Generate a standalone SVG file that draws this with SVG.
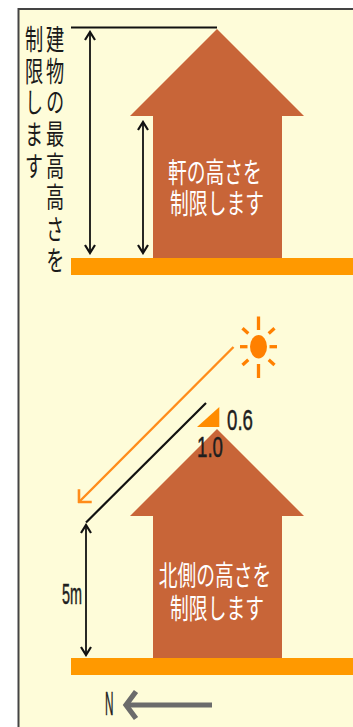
<svg xmlns="http://www.w3.org/2000/svg" width="353" height="727" viewBox="0 0 353 727">
  <style>
    .house { fill: #C86538; }
    .ground { fill: #FF9900; }
    .dim { stroke: #111; stroke-width: 1.8; fill: none; marker-start: url(#chev); marker-end: url(#chev); }
    .jp { font-family: "Noto Sans CJK JP", "Noto Sans", sans-serif; font-size: 28px; }
    .jpv { font-family: "Noto Sans CJK JP", "Noto Sans", sans-serif; font-size: 28px; fill: #1a1a1a; writing-mode: vertical-rl; letter-spacing: 3.6px; }
    .num { font-family: "Liberation Sans", Arial, sans-serif; fill: #1e1e1e; stroke: #1e1e1e; stroke-width: 0.5; }
    .ray { stroke: #FF8000; stroke-width: 3.3; }
  </style>
  <defs>
    <marker id="chev" viewBox="-10 -6 12 12" refX="0" refY="0" markerWidth="12" markerHeight="12" markerUnits="userSpaceOnUse" orient="auto-start-reverse">
      <path d="M-8,-5 L0,0 L-8,5" fill="none" stroke="#111" stroke-width="2.2"/>
    </marker>
    <marker id="sunray" viewBox="-12 -11 14 22" refX="0" refY="0" markerWidth="14" markerHeight="22" markerUnits="userSpaceOnUse" orient="auto">
      <path d="M-9,-9 L0,0 L-9,9" fill="none" stroke="#FF8C1A" stroke-width="2.6"/>
    </marker>
    <polygon id="houseShape" points="217,29 304,116 282,116 282,258 153,258 153,116 130,116"/>
  </defs>

  <!-- page and framed panel -->
  <rect x="0" y="0" width="353" height="727" fill="#ffffff"/>
  <rect x="18.5" y="9" width="345" height="730" fill="#FEFCD9" stroke="#444" stroke-width="2"/>

  <!-- upper scene: maximum height / eave height -->
  <g id="upper-house">
    <use href="#houseShape" class="house"/>
    <text class="jp" fill="#fff" text-anchor="middle" transform="translate(217,0) scale(0.67,1)">
      <tspan x="0" y="183">軒の高さを</tspan>
      <tspan x="0" y="214">制限します</tspan>
    </text>
  </g>
  <g id="upper-ground">
    <rect class="ground" x="71" y="258" width="290" height="17"/>
  </g>
  <g id="max-height-label">
    <g transform="translate(55,0) scale(0.65,1)">
      <text class="jpv" x="0" y="25.5">建物の最高高さを</text>
    </g>
    <g transform="translate(34,0) scale(0.65,1)">
      <text class="jpv" x="0" y="25.5">制限します</text>
    </g>
  </g>

  <!-- lower scene: north-side slant line -->
  <g id="lower-house">
    <use href="#houseShape" class="house" transform="translate(0,400)"/>
    <text class="jp" fill="#fff" text-anchor="middle" transform="translate(217,0) scale(0.67,1)">
      <tspan x="0" y="586">北側の高さを</tspan>
      <tspan x="0" y="619">制限します</tspan>
    </text>
  </g>
  <g id="lower-ground">
    <rect class="ground" x="71" y="658" width="290" height="17"/>
  </g>
  <g id="sun">
    <ellipse cx="258.5" cy="346.7" rx="8.5" ry="11.7" fill="#FF8000"/>
    <line class="ray" x1="258.5" y1="316.5" x2="258.5" y2="330"/>
    <line class="ray" x1="258.5" y1="364" x2="258.5" y2="378"/>
    <line class="ray" x1="240" y1="346.7" x2="247.5" y2="346.7"/>
    <line class="ray" x1="269.5" y1="346.7" x2="277" y2="346.7"/>
    <line class="ray" x1="242.5" y1="328.3" x2="248.3" y2="333.5"/>
    <line class="ray" x1="274.5" y1="328.3" x2="268.7" y2="333.5"/>
    <line class="ray" x1="242.5" y1="365" x2="248.3" y2="359.8"/>
    <line class="ray" x1="274.5" y1="365" x2="268.7" y2="359.8"/>
  </g>
  <g id="slope-label">
    <polygon points="197,427 219.3,427 219.3,407" fill="#FF8C00"/>
    <text class="num" x="227" y="430" font-size="30" textLength="26" lengthAdjust="spacingAndGlyphs">0.6</text>
    <text class="num" x="197" y="457" font-size="29" textLength="26" lengthAdjust="spacingAndGlyphs">1.0</text>
  </g>
  <g id="height-5m-label">
    <text class="num" x="62" y="604" font-size="29" textLength="20" lengthAdjust="spacingAndGlyphs">5m</text>
  </g>
  <g id="north-indicator">
    <text class="num" x="105" y="715" font-size="34" textLength="8.5" lengthAdjust="spacingAndGlyphs">N</text>
    <line x1="128" y1="705" x2="212" y2="705" stroke="#6b6b6b" stroke-width="5.2"/>
    <polyline points="136,691.5 126,705 136,718.5" fill="none" stroke="#6b6b6b" stroke-width="5.2" stroke-linejoin="miter"/>
  </g>

  <!-- connectors: dimension arrows, limit lines, sunlight -->
  <g id="connectors">
    <line x1="71" y1="27.5" x2="217" y2="27.5" stroke="#111" stroke-width="2.2"/>
    <line class="dim" x1="90" y1="32" x2="90" y2="253"/>
    <line class="dim" x1="143" y1="122" x2="143" y2="253"/>
    <line x1="86" y1="522.5" x2="206" y2="403" stroke="#111" stroke-width="2.2"/>
    <line class="dim" x1="86" y1="525" x2="86" y2="655"/>
    <line x1="233.5" y1="347" x2="79" y2="502" stroke="#FF8C1A" stroke-width="2.4" marker-end="url(#sunray)"/>
  </g>
</svg>
